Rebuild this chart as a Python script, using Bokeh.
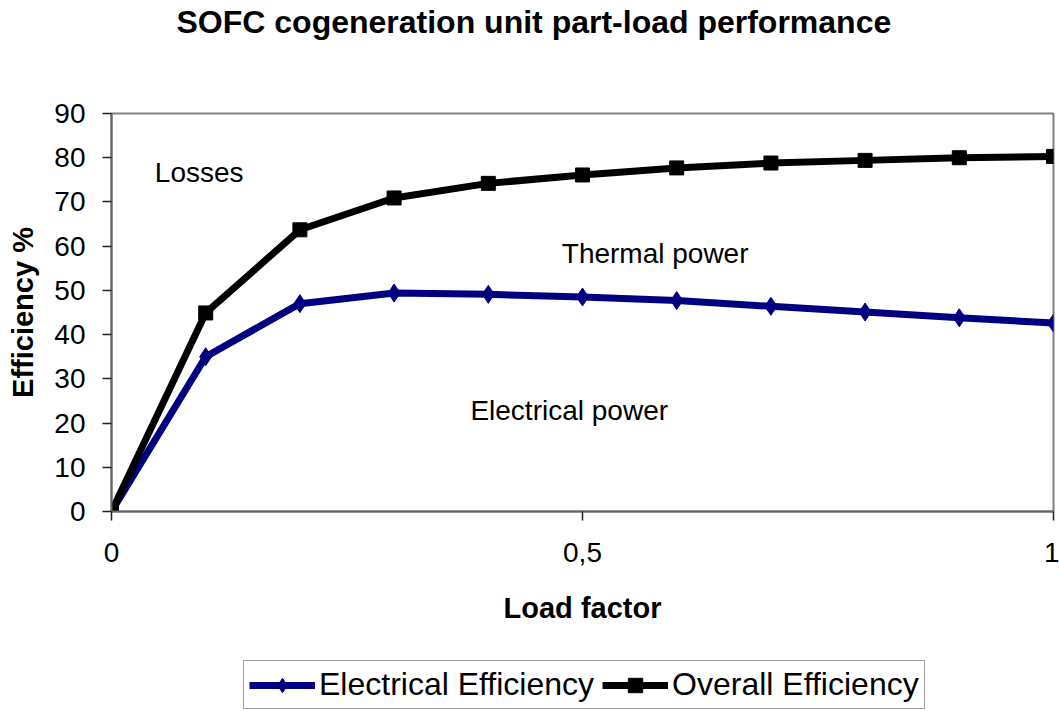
from bokeh.plotting import figure
from bokeh.layouts import column
from bokeh.models import Legend, LegendItem, Label, FixedTicker, Range1d, Title
from bokeh.embed import file_html
from bokeh.resources import INLINE

load_factor = [0.0, 0.1, 0.2, 0.3, 0.4, 0.5, 0.6, 0.7, 0.8, 0.9, 1.0]
electrical_eff = [0.0, 35.0, 47.0, 49.4, 49.1, 48.5, 47.7, 46.4, 45.1, 43.8, 42.6]
overall_eff = [0.0, 44.9, 63.7, 70.9, 74.2, 76.1, 77.7, 78.8, 79.4, 80.0, 80.3]
x_ticks = [0, 0.5, 1]
x_tick_labels = ["0", "0,5", "1"]
y_ticks = [0, 10, 20, 30, 40, 50, 60, 70, 80, 90]
series_names = ["Electrical Efficiency", "Overall Efficiency"]

FONT = "Liberation Sans"
ELEC_COLOR = "#000080"
OVER_COLOR = "black"

p = figure(width=1059, height=655, frame_width=942, frame_height=398,
           min_border_left=111, min_border_top=113, min_border_right=6, min_border_bottom=144,
           x_range=Range1d(0, 1), y_range=Range1d(0, 90),
           output_backend="svg", toolbar_location=None, tools="")

# real title (outer) + spacer title next to the frame
p.title.text = "SOFC cogeneration unit part-load performance"
p.title.text_font = FONT
p.title.text_font_size = "32px"
p.title.text_font_style = "bold"
p.title.text_color = "black"
p.title.align = "left"
p.title.offset = 65
p.title.standoff = 2
p.add_layout(Title(text=" ", text_font=FONT, text_font_size="30px", standoff=38), "above")

p.xgrid.visible = False
p.ygrid.visible = False
p.outline_line_color = "#808080"
p.outline_line_width = 2

for ax in (p.xaxis[0], p.yaxis[0]):
    ax.axis_line_color = "#666666"
    ax.axis_line_width = 2
    ax.major_tick_line_color = "#222222"
    ax.major_tick_line_width = 1.5
    ax.major_tick_in = 0
    ax.major_tick_out = 9
    ax.minor_tick_line_color = None
    ax.major_label_text_font = FONT
    ax.major_label_text_font_size = "28px"
    ax.major_label_text_color = "black"
    ax.axis_label_text_font = FONT
    ax.axis_label_text_font_size = "29px"
    ax.axis_label_text_font_style = "bold"
    ax.axis_label_text_color = "black"

p.xaxis.ticker = FixedTicker(ticks=x_ticks)
p.xaxis.major_label_overrides = {t: l for t, l in zip(x_ticks, x_tick_labels)}
p.xaxis.axis_label = "Load factor"
p.xaxis.major_label_standoff = 22
p.xaxis.axis_label_standoff = 27

p.yaxis.ticker = FixedTicker(ticks=y_ticks)
p.yaxis.axis_label = "Efficiency %"
p.yaxis.major_label_standoff = 17
p.yaxis.axis_label_standoff = 12

p.line(load_factor, electrical_eff, line_color=ELEC_COLOR, line_width=7)
p.scatter(load_factor, electrical_eff, marker="diamond", size=18,
          fill_color=ELEC_COLOR, line_color=ELEC_COLOR)
p.line(load_factor, overall_eff, line_color=OVER_COLOR, line_width=7)
p.scatter(load_factor, overall_eff, marker="square", size=14,
          fill_color=OVER_COLOR, line_color=OVER_COLOR)

for txt, x, y in [("Losses", 0.046, 76.7), ("Thermal power", 0.478, 58.4),
                  ("Electrical power", 0.381, 22.8)]:
    p.add_layout(Label(x=x, y=y, text=txt, text_font=FONT, text_font_size="28px",
                       text_baseline="middle", text_align="left", text_color="black"))

# legend strip below the chart (series drawn outside its visible range, only the legend shows)
lf = figure(width=1059, height=56, x_axis_type=None, y_axis_type=None, title=None,
            min_border=0, x_range=Range1d(0, 1), y_range=Range1d(-2, -1),
            output_backend="svg", toolbar_location=None, tools="")
lf.outline_line_color = None
lf.grid.visible = False
le_l = lf.line(load_factor, electrical_eff, line_color=ELEC_COLOR, line_width=7)
le_s = lf.scatter(load_factor, electrical_eff, marker="diamond", size=18,
                  fill_color=ELEC_COLOR, line_color=ELEC_COLOR)
lo_l = lf.line(load_factor, overall_eff, line_color=OVER_COLOR, line_width=7)
lo_s = lf.scatter(load_factor, overall_eff, marker="square", size=14,
                  fill_color=OVER_COLOR, line_color=OVER_COLOR)

legend = Legend(items=[LegendItem(label=series_names[0], renderers=[le_l, le_s]),
                       LegendItem(label=series_names[1], renderers=[lo_l, lo_s])],
                orientation="horizontal", location=(132, 2),
                label_text_font=FONT, label_text_font_size="32px",
                label_text_color="black",
                label_standoff=4, glyph_width=66, glyph_height=36, label_height=36,
                spacing=8, padding=5, margin=0,
                border_line_color="#404040", border_line_width=1.5,
                background_fill_color="white")
lf.add_layout(legend)

layout = column(p, lf, spacing=0)
open("out.html", "w").write(file_html(layout, INLINE))
